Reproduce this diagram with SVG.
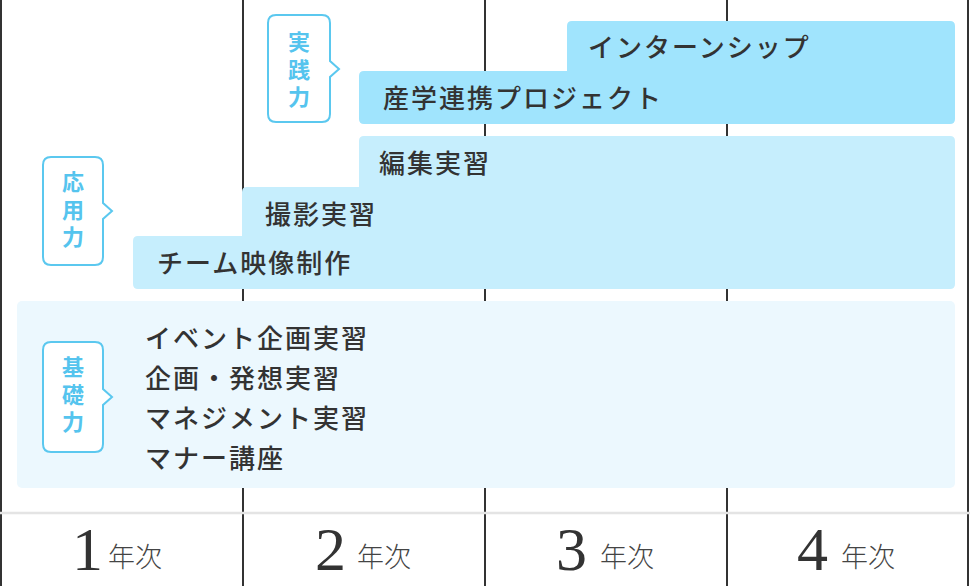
<svg xmlns="http://www.w3.org/2000/svg" width="970" height="586" viewBox="0 0 970 586">
<style>
.grid{stroke:#333;stroke-width:2;fill:none}
.sep{stroke:#e4e4e4;stroke-width:2.5;fill:none}
.t{font-family:"Noto Sans CJK JP","Noto Sans",sans-serif;font-size:26px;fill:#333;letter-spacing:2px;font-weight:500}
.call{fill:#fff;stroke:#5bc8ef;stroke-width:2}
.ct{font-family:"Noto Sans CJK JP","Noto Sans",sans-serif;font-size:22px;font-weight:700;fill:#55c4ee;writing-mode:vertical-rl;letter-spacing:5.5px}
.num{font-family:"Liberation Serif",serif;font-size:62px;fill:#333}
.yr{font-family:"Noto Sans CJK JP","Noto Sans",sans-serif;font-size:27px;fill:#444;font-weight:300}
</style>
<rect width="970" height="586" fill="#fff"/>
<g id="grid">
<line class="grid" x1="1" y1="0" x2="1" y2="586"/>
<line class="grid" x1="243" y1="0" x2="243" y2="586"/>
<line class="grid" x1="485" y1="0" x2="485" y2="586"/>
<line class="grid" x1="727" y1="0" x2="727" y2="586"/>
<line class="grid" x1="968" y1="0" x2="968" y2="586"/>
<line class="sep" x1="0" y1="513" x2="970" y2="513"/>
</g>
<g id="practice">
<path d="M572,21 H950 Q955,21 955,26 V119 Q955,124 950,124 H364 Q359,124 359,119 V76 Q359,71 364,71 H567 V26 Q567,21 572,21 Z" fill="#a0e4fd"/>
<text class="t" x="588" y="57">インターンシップ</text>
<text class="t" x="383" y="108">産学連携プロジェクト</text>
</g>
<g id="applied">
<path d="M364,136 H950 Q955,136 955,141 V284 Q955,289 950,289 H138 Q133,289 133,284 V241 Q133,236 138,236 H242 V192 Q242,187 247,187 H359 V141 Q359,136 364,136 Z" fill="#c6eefd"/>
<text class="t" x="379" y="173">編集実習</text>
<text class="t" x="265" y="224">撮影実習</text>
<text class="t" x="157" y="273">チーム映像制作</text>
</g>
<g id="basic">
<rect x="17" y="301" width="938" height="187" rx="5" fill="#ecf8fe"/>
<text class="t" x="145" y="348">イベント企画実習</text>
<text class="t" x="145" y="388">企画・発想実習</text>
<text class="t" x="145" y="428">マネジメント実習</text>
<text class="t" x="145" y="468">マナー講座</text>
</g>
<g id="label-practice">
<path class="call" d="M276,15 H322 Q330,15 330,23 V61 L339,69 L330,77 V114 Q330,122 322,122 H276 Q268,122 268,114 V23 Q268,15 276,15 Z"/>
<text class="ct" x="299" y="31">実践力</text>
</g>
<g id="label-applied">
<path class="call" d="M51,157 H95 Q103,157 103,165 V203 L112,211 L103,219 V257 Q103,265 95,265 H51 Q43,265 43,257 V165 Q43,157 51,157 Z"/>
<text class="ct" x="73" y="171">応用力</text>
</g>
<g id="label-basic">
<path class="call" d="M51,342 H95 Q103,342 103,350 V389 L112,397 L103,405 V444 Q103,452 95,452 H51 Q43,452 43,444 V350 Q43,342 51,342 Z"/>
<text class="ct" x="73" y="356">基礎力</text>
</g>
<g id="years">
<text class="num" x="72" y="570">1</text><text class="yr" x="108" y="567">年次</text>
<text class="num" x="315" y="570">2</text><text class="yr" x="357" y="567">年次</text>
<text class="num" x="556" y="570">3</text><text class="yr" x="600" y="567">年次</text>
<text class="num" x="797" y="570">4</text><text class="yr" x="841" y="567">年次</text>
</g>
</svg>
